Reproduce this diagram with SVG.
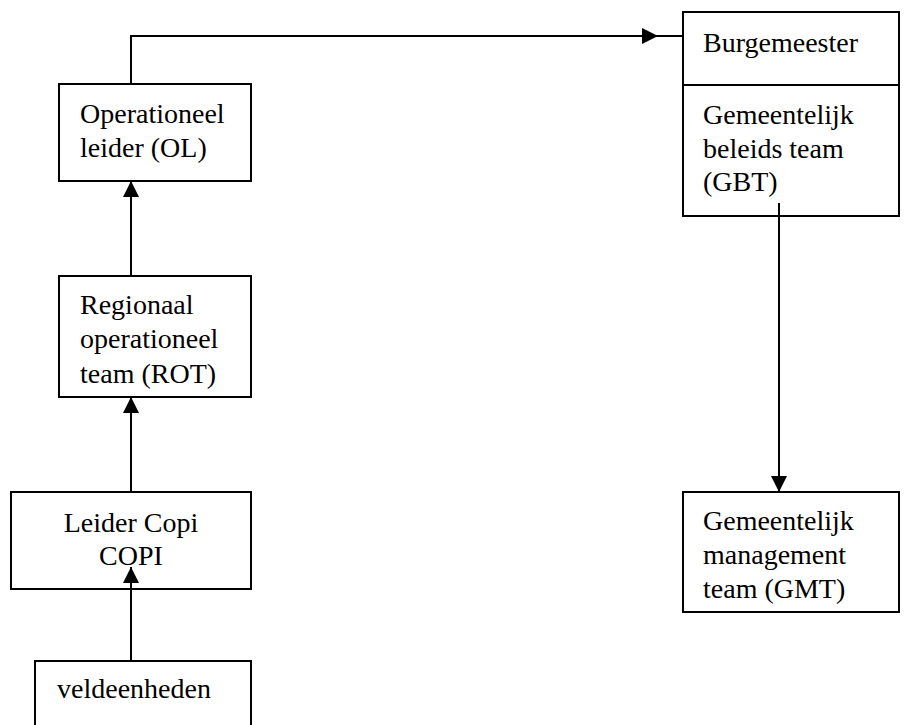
<svg xmlns="http://www.w3.org/2000/svg" width="912" height="725" viewBox="0 0 912 725">
  <style>
    .box { fill: #ffffff; stroke: #000000; stroke-width: 2; }
    .lbl { font-family: "Liberation Serif", "Times New Roman", serif; font-size: 28px; fill: #000000; }
    .mid { text-anchor: middle; }
    .link { fill: none; stroke: #000000; stroke-width: 2; }
  </style>
  <defs>
    <marker id="arrow" viewBox="0 0 16 16" refX="16" refY="8" markerWidth="16" markerHeight="16" markerUnits="userSpaceOnUse" orient="auto">
      <path d="M0,0 L16,8 L0,16 Z" fill="#000000"/>
    </marker>
  </defs>

  <rect width="912" height="725" fill="#ffffff"/>

  <g id="node-ol">
    <rect class="box" x="59" y="84" width="192" height="97"/>
    <text class="lbl" x="80" y="123">Operationeel</text>
    <text class="lbl" x="80" y="157">leider (OL)</text>
  </g>

  <g id="node-rot">
    <rect class="box" x="59" y="276" width="192" height="121"/>
    <text class="lbl" x="80" y="314">Regionaal</text>
    <text class="lbl" x="80" y="348">operationeel</text>
    <text class="lbl" x="80" y="383">team (ROT)</text>
  </g>

  <g id="node-copi">
    <rect class="box" x="11" y="492" width="240" height="97"/>
    <text class="lbl mid" x="131" y="532">Leider Copi</text>
    <text class="lbl mid" x="131" y="565">COPI</text>
  </g>

  <g id="node-veld">
    <rect class="box" x="35" y="661" width="216" height="80"/>
    <text class="lbl" x="57" y="698">veldeenheden</text>
  </g>

  <g id="node-burgemeester">
    <rect class="box" x="683" y="12" width="216" height="204"/>
    <line class="link" x1="683" y1="85" x2="899" y2="85"/>
    <text class="lbl" x="703" y="52">Burgemeester</text>
    <text class="lbl" x="703" y="124">Gemeentelijk</text>
    <text class="lbl" x="703" y="158">beleids team</text>
    <text class="lbl" x="703" y="191">(GBT)</text>
  </g>

  <g id="node-gmt">
    <rect class="box" x="683" y="492" width="216" height="120"/>
    <text class="lbl" x="703" y="530">Gemeentelijk</text>
    <text class="lbl" x="703" y="564">management</text>
    <text class="lbl" x="703" y="598">team (GMT)</text>
  </g>

  <g id="connectors">
    <path class="link" d="M131,84 V36 H658" marker-end="url(#arrow)"/>
    <path class="link" d="M656,36 H683"/>
    <path class="link" d="M131,276 V181" marker-end="url(#arrow)"/>
    <path class="link" d="M131,492 V397" marker-end="url(#arrow)"/>
    <path class="link" d="M131,661 V567" marker-end="url(#arrow)"/>
    <path class="link" d="M779,203 V492" marker-end="url(#arrow)"/>
  </g>
</svg>
